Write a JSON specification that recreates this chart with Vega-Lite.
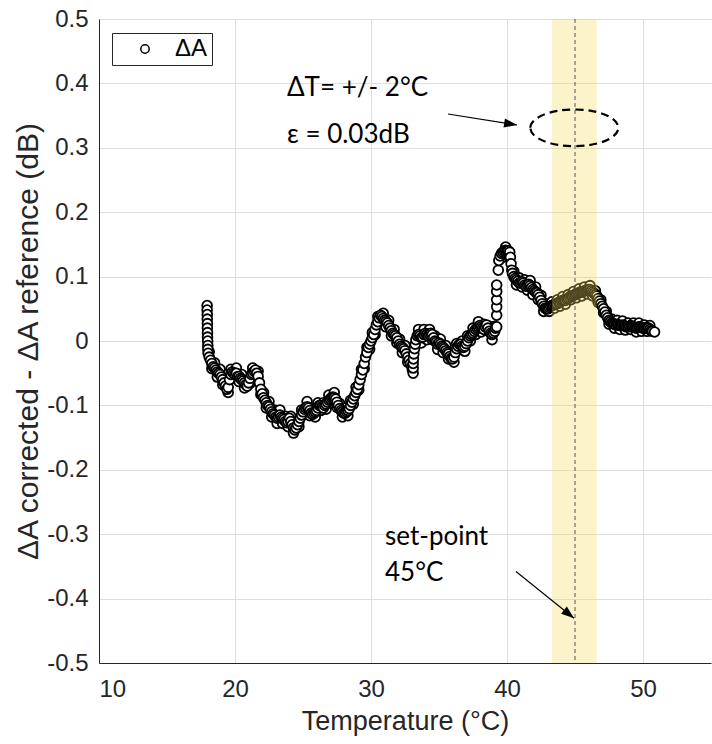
{
  "$schema": "https://vega.github.io/schema/vega-lite/v6.json",
  "width": 612,
  "height": 644,
  "autosize": {"type": "none"},
  "padding": {"left": 99, "top": 19, "right": 1, "bottom": 81},
  "background": "white",
  "config": {
    "view": {"stroke": null},
    "axis": {
      "labelFont": "Liberation Sans", "labelFontSize": 24, "labelColor": "#262626",
      "titleFont": "Liberation Sans", "titleFontSize": 27, "titleColor": "#262626", "titleFontWeight": "normal",
      "gridColor": "#dedede", "gridWidth": 1, "domainColor": "#262626", "domainWidth": 1,
      "tickColor": "#262626", "tickSize": 0,
      "labelExpr": "replace(format(datum.value, '.1~f'), '−', '-')"
    }
  },
  "datasets": {
    "dA": [
      {"T":18.1,"dA":-0.017},{"T":18.3,"dA":-0.043},{"T":18.5,"dA":-0.034},{"T":18.7,"dA":-0.056},{"T":18.9,"dA":-0.044},{"T":19.1,"dA":-0.068},{"T":19.3,"dA":-0.062},{"T":19.5,"dA":-0.08},{"T":19.7,"dA":-0.044},{"T":19.9,"dA":-0.058},
      {"T":20.1,"dA":-0.042},{"T":20.3,"dA":-0.063},{"T":20.5,"dA":-0.052},{"T":20.7,"dA":-0.073},{"T":20.9,"dA":-0.062},{"T":21.1,"dA":-0.066},{"T":21.3,"dA":-0.042},{"T":21.5,"dA":-0.053},{"T":21.7,"dA":-0.047},{"T":21.9,"dA":-0.083},
      {"T":22.1,"dA":-0.08},{"T":22.3,"dA":-0.104},{"T":22.5,"dA":-0.094},{"T":22.7,"dA":-0.118},{"T":22.9,"dA":-0.107},{"T":23.1,"dA":-0.128},{"T":23.3,"dA":-0.107},{"T":23.5,"dA":-0.128},{"T":23.7,"dA":-0.117},{"T":23.9,"dA":-0.133},
      {"T":24.1,"dA":-0.117},{"T":24.3,"dA":-0.143},{"T":24.5,"dA":-0.127},{"T":24.7,"dA":-0.133},{"T":24.9,"dA":-0.107},{"T":25.1,"dA":-0.114},{"T":25.3,"dA":-0.094},{"T":25.5,"dA":-0.116},{"T":25.7,"dA":-0.106},{"T":25.9,"dA":-0.118},
      {"T":26.1,"dA":-0.096},{"T":26.3,"dA":-0.108},{"T":26.5,"dA":-0.096},{"T":26.7,"dA":-0.106},{"T":26.9,"dA":-0.084},{"T":27.1,"dA":-0.096},{"T":27.3,"dA":-0.08},{"T":27.5,"dA":-0.103},{"T":27.7,"dA":-0.097},{"T":27.9,"dA":-0.118},
      {"T":28.1,"dA":-0.104},{"T":28.3,"dA":-0.116},{"T":28.5,"dA":-0.092},{"T":28.7,"dA":-0.098},{"T":28.9,"dA":-0.072},{"T":29.1,"dA":-0.076},{"T":29.3,"dA":-0.044},{"T":29.5,"dA":-0.043},{"T":29.7,"dA":-0.01},{"T":29.9,"dA":-0.013},
      {"T":30.1,"dA":0.013},{"T":30.3,"dA":0.01},{"T":30.5,"dA":0.038},{"T":30.7,"dA":0.032},{"T":30.9,"dA":0.043},{"T":31.1,"dA":0.022},{"T":31.3,"dA":0.032},{"T":31.5,"dA":0.008},{"T":31.7,"dA":0.018},{"T":31.9,"dA":-0.003},
      {"T":32.1,"dA":0.003},{"T":32.3,"dA":-0.018},{"T":32.5,"dA":-0.007},{"T":32.7,"dA":-0.033},{"T":32.9,"dA":-0.027},{"T":33.3,"dA":-0.006},{"T":33.5,"dA":0.018},{"T":33.7,"dA":-0.003},{"T":33.9,"dA":0.018},{"T":34.1,"dA":0.002},
      {"T":34.3,"dA":0.018},{"T":34.5,"dA":0.002},{"T":34.7,"dA":0.008},{"T":34.9,"dA":-0.013},{"T":35.1,"dA":0.003},{"T":35.3,"dA":-0.018},{"T":35.5,"dA":-0.007},{"T":35.7,"dA":-0.028},{"T":35.9,"dA":-0.019},{"T":36.1,"dA":-0.033},
      {"T":36.3,"dA":-0.004},{"T":36.5,"dA":-0.013},{"T":36.7,"dA":0.0},{"T":36.9,"dA":-0.016},{"T":37.1,"dA":0.008},{"T":37.3,"dA":0.0},{"T":37.5,"dA":0.02},{"T":37.7,"dA":0.01},{"T":37.9,"dA":0.03},{"T":38.1,"dA":0.014},
      {"T":38.3,"dA":0.026},{"T":38.5,"dA":0.017},{"T":38.7,"dA":0.023},{"T":38.9,"dA":0.002},{"T":39.1,"dA":0.023},{"T":39.7,"dA":0.13},{"T":39.9,"dA":0.146},{"T":40.1,"dA":0.132},{"T":40.5,"dA":0.108},{"T":40.7,"dA":0.087},
      {"T":40.9,"dA":0.098},{"T":41.1,"dA":0.084},{"T":41.3,"dA":0.095},{"T":41.5,"dA":0.079},{"T":41.7,"dA":0.094},{"T":41.9,"dA":0.072},{"T":42.1,"dA":0.084},{"T":42.3,"dA":0.064},{"T":42.5,"dA":0.071},{"T":42.7,"dA":0.046},
      {"T":42.9,"dA":0.058},{"T":43.1,"dA":0.046},{"T":43.3,"dA":0.061},{"T":43.5,"dA":0.051},{"T":43.7,"dA":0.064},{"T":43.9,"dA":0.054},{"T":44.1,"dA":0.069},{"T":44.3,"dA":0.057},{"T":44.5,"dA":0.072},{"T":44.7,"dA":0.064},
      {"T":44.9,"dA":0.077},{"T":45.1,"dA":0.067},{"T":45.3,"dA":0.081},{"T":45.5,"dA":0.07},{"T":45.7,"dA":0.084},{"T":45.9,"dA":0.073},{"T":46.1,"dA":0.086},{"T":46.3,"dA":0.07},{"T":46.5,"dA":0.078},{"T":46.7,"dA":0.06},
      {"T":46.9,"dA":0.064},{"T":47.1,"dA":0.044},{"T":47.3,"dA":0.046},{"T":47.5,"dA":0.026},{"T":47.7,"dA":0.034},{"T":47.9,"dA":0.02},{"T":48.1,"dA":0.032},{"T":48.3,"dA":0.018},{"T":48.5,"dA":0.031},{"T":48.7,"dA":0.017},
      {"T":48.9,"dA":0.028},{"T":49.1,"dA":0.018},{"T":49.3,"dA":0.028},{"T":49.5,"dA":0.014},{"T":49.7,"dA":0.028},{"T":49.9,"dA":0.015},{"T":50.1,"dA":0.025},{"T":50.3,"dA":0.015},{"T":50.5,"dA":0.024},
      {"T":17.95,"dA":0.055},{"T":17.95,"dA":0.048},{"T":17.96,"dA":0.041},{"T":17.96,"dA":0.034},{"T":17.97,"dA":0.027},{"T":17.97,"dA":0.02},{"T":17.98,"dA":0.013},{"T":17.98,"dA":0.006},{"T":17.99,"dA":0.0},{"T":18.0,"dA":-0.007},{"T":18.0,"dA":-0.013},{"T":18.02,"dA":-0.019},
      {"T":18.1,"dA":-0.025},{"T":18.2,"dA":-0.03},{"T":18.3,"dA":-0.035},{"T":18.4,"dA":-0.04},{"T":18.5,"dA":-0.042},{"T":18.6,"dA":-0.045},{"T":18.7,"dA":-0.048},{"T":18.8,"dA":-0.05},{"T":18.9,"dA":-0.052},{"T":19.0,"dA":-0.056},
      {"T":19.1,"dA":-0.06},{"T":19.2,"dA":-0.065},{"T":19.3,"dA":-0.07},{"T":19.4,"dA":-0.075},{"T":19.5,"dA":-0.072},{"T":19.6,"dA":-0.06},{"T":19.7,"dA":-0.052},{"T":19.8,"dA":-0.048},{"T":19.9,"dA":-0.05},{"T":20.0,"dA":-0.052},
      {"T":20.1,"dA":-0.05},{"T":20.2,"dA":-0.055},{"T":20.3,"dA":-0.055},{"T":20.4,"dA":-0.058},{"T":20.5,"dA":-0.06},{"T":20.6,"dA":-0.062},{"T":20.7,"dA":-0.065},{"T":20.8,"dA":-0.068},{"T":20.9,"dA":-0.07},{"T":21.0,"dA":-0.065},
      {"T":21.1,"dA":-0.058},{"T":21.2,"dA":-0.052},{"T":21.3,"dA":-0.05},{"T":21.4,"dA":-0.047},{"T":21.5,"dA":-0.045},{"T":21.6,"dA":-0.05},{"T":21.7,"dA":-0.055},{"T":21.8,"dA":-0.065},{"T":21.9,"dA":-0.075},{"T":22.0,"dA":-0.082},
      {"T":22.1,"dA":-0.088},{"T":22.2,"dA":-0.092},{"T":22.3,"dA":-0.096},{"T":22.4,"dA":-0.1},{"T":22.5,"dA":-0.102},{"T":22.6,"dA":-0.106},{"T":22.7,"dA":-0.11},{"T":22.8,"dA":-0.113},{"T":22.9,"dA":-0.115},{"T":23.0,"dA":-0.118},
      {"T":23.1,"dA":-0.12},{"T":23.2,"dA":-0.118},{"T":23.3,"dA":-0.115},{"T":23.4,"dA":-0.118},{"T":23.5,"dA":-0.12},{"T":23.6,"dA":-0.122},{"T":23.7,"dA":-0.125},{"T":23.8,"dA":-0.127},{"T":23.9,"dA":-0.125},{"T":24.0,"dA":-0.12},
      {"T":24.1,"dA":-0.125},{"T":24.2,"dA":-0.13},{"T":24.3,"dA":-0.135},{"T":24.4,"dA":-0.138},{"T":24.5,"dA":-0.135},{"T":24.6,"dA":-0.13},{"T":24.7,"dA":-0.125},{"T":24.8,"dA":-0.12},{"T":24.9,"dA":-0.115},{"T":25.0,"dA":-0.11},
      {"T":25.1,"dA":-0.106},{"T":25.2,"dA":-0.104},{"T":25.3,"dA":-0.102},{"T":25.4,"dA":-0.104},{"T":25.5,"dA":-0.108},{"T":25.6,"dA":-0.112},{"T":25.7,"dA":-0.114},{"T":25.8,"dA":-0.112},{"T":25.9,"dA":-0.11},{"T":26.0,"dA":-0.108},
      {"T":26.1,"dA":-0.104},{"T":26.2,"dA":-0.1},{"T":26.3,"dA":-0.1},{"T":26.4,"dA":-0.102},{"T":26.5,"dA":-0.104},{"T":26.6,"dA":-0.1},{"T":26.7,"dA":-0.098},{"T":26.8,"dA":-0.095},{"T":26.9,"dA":-0.092},{"T":27.0,"dA":-0.09},
      {"T":27.1,"dA":-0.088},{"T":27.2,"dA":-0.087},{"T":27.3,"dA":-0.088},{"T":27.4,"dA":-0.09},{"T":27.5,"dA":-0.095},{"T":27.6,"dA":-0.1},{"T":27.7,"dA":-0.105},{"T":27.8,"dA":-0.108},{"T":27.9,"dA":-0.11},{"T":28.0,"dA":-0.112},
      {"T":28.1,"dA":-0.112},{"T":28.2,"dA":-0.11},{"T":28.3,"dA":-0.108},{"T":28.4,"dA":-0.105},{"T":28.5,"dA":-0.1},{"T":28.6,"dA":-0.095},{"T":28.7,"dA":-0.09},{"T":28.8,"dA":-0.085},{"T":28.9,"dA":-0.08},{"T":29.0,"dA":-0.075},
      {"T":29.1,"dA":-0.068},{"T":29.2,"dA":-0.06},{"T":29.3,"dA":-0.052},{"T":29.4,"dA":-0.045},{"T":29.5,"dA":-0.035},{"T":29.6,"dA":-0.025},{"T":29.7,"dA":-0.018},{"T":29.8,"dA":-0.01},{"T":29.9,"dA":-0.005},{"T":30.0,"dA":0.0},
      {"T":30.1,"dA":0.005},{"T":30.2,"dA":0.01},{"T":30.3,"dA":0.018},{"T":30.4,"dA":0.025},{"T":30.5,"dA":0.03},{"T":30.6,"dA":0.036},{"T":30.7,"dA":0.04},{"T":30.8,"dA":0.038},{"T":30.9,"dA":0.035},{"T":31.0,"dA":0.032},
      {"T":31.1,"dA":0.03},{"T":31.2,"dA":0.028},{"T":31.3,"dA":0.024},{"T":31.4,"dA":0.02},{"T":31.5,"dA":0.016},{"T":31.6,"dA":0.012},{"T":31.7,"dA":0.01},{"T":31.8,"dA":0.008},{"T":31.9,"dA":0.005},{"T":32.0,"dA":0.0},
      {"T":32.1,"dA":-0.005},{"T":32.2,"dA":-0.008},{"T":32.3,"dA":-0.01},{"T":32.4,"dA":-0.012},{"T":32.5,"dA":-0.015},{"T":32.6,"dA":-0.02},{"T":32.7,"dA":-0.025},{"T":32.8,"dA":-0.03},{"T":32.9,"dA":-0.035},{"T":33.0,"dA":-0.04},
      {"T":33.05,"dA":-0.045},{"T":33.1,"dA":-0.05},{"T":33.1,"dA":-0.042},{"T":33.1,"dA":-0.035},{"T":33.12,"dA":-0.028},{"T":33.15,"dA":-0.02},{"T":33.2,"dA":-0.012},{"T":33.25,"dA":-0.005},{"T":33.3,"dA":0.002},{"T":33.4,"dA":0.008},
      {"T":33.5,"dA":0.01},{"T":33.6,"dA":0.008},{"T":33.7,"dA":0.005},{"T":33.8,"dA":0.006},{"T":33.9,"dA":0.01},{"T":34.0,"dA":0.012},{"T":34.1,"dA":0.01},{"T":34.2,"dA":0.008},{"T":34.3,"dA":0.01},{"T":34.4,"dA":0.012},
      {"T":34.5,"dA":0.01},{"T":34.6,"dA":0.005},{"T":34.7,"dA":0.0},{"T":34.8,"dA":-0.002},{"T":34.9,"dA":-0.005},{"T":35.0,"dA":-0.003},{"T":35.1,"dA":-0.005},{"T":35.2,"dA":-0.008},{"T":35.3,"dA":-0.01},{"T":35.4,"dA":-0.012},
      {"T":35.5,"dA":-0.015},{"T":35.6,"dA":-0.018},{"T":35.7,"dA":-0.02},{"T":35.8,"dA":-0.024},{"T":35.9,"dA":-0.027},{"T":36.0,"dA":-0.028},{"T":36.1,"dA":-0.025},{"T":36.2,"dA":-0.018},{"T":36.3,"dA":-0.012},{"T":36.4,"dA":-0.008},
      {"T":36.5,"dA":-0.005},{"T":36.6,"dA":-0.005},{"T":36.7,"dA":-0.008},{"T":36.8,"dA":-0.01},{"T":36.9,"dA":-0.008},{"T":37.0,"dA":-0.004},{"T":37.1,"dA":0.0},{"T":37.2,"dA":0.005},{"T":37.3,"dA":0.008},{"T":37.4,"dA":0.01},
      {"T":37.5,"dA":0.012},{"T":37.6,"dA":0.015},{"T":37.7,"dA":0.018},{"T":37.8,"dA":0.02},{"T":37.9,"dA":0.022},{"T":38.0,"dA":0.024},{"T":38.1,"dA":0.022},{"T":38.2,"dA":0.02},{"T":38.3,"dA":0.018},{"T":38.4,"dA":0.022},
      {"T":38.5,"dA":0.025},{"T":38.6,"dA":0.02},{"T":38.7,"dA":0.015},{"T":38.8,"dA":0.012},{"T":38.9,"dA":0.01},{"T":39.0,"dA":0.012},{"T":39.1,"dA":0.015},{"T":39.15,"dA":0.02},
      {"T":39.24,"dA":0.022},{"T":39.24,"dA":0.04},{"T":39.24,"dA":0.053},{"T":39.24,"dA":0.064},{"T":39.24,"dA":0.077},{"T":39.24,"dA":0.087},{"T":39.36,"dA":0.11},
      {"T":39.4,"dA":0.125},{"T":39.5,"dA":0.132},{"T":39.6,"dA":0.136},{"T":39.7,"dA":0.138},{"T":39.8,"dA":0.14},{"T":39.9,"dA":0.141},{"T":40.0,"dA":0.14},{"T":40.1,"dA":0.14},{"T":40.2,"dA":0.138},{"T":40.25,"dA":0.13},
      {"T":40.3,"dA":0.12},{"T":40.35,"dA":0.11},{"T":40.4,"dA":0.105},{"T":40.5,"dA":0.1},{"T":40.6,"dA":0.097},{"T":40.7,"dA":0.095},{"T":40.8,"dA":0.093},{"T":40.9,"dA":0.09},{"T":41.0,"dA":0.09},{"T":41.1,"dA":0.092},
      {"T":41.2,"dA":0.09},{"T":41.3,"dA":0.087},{"T":41.4,"dA":0.085},{"T":41.5,"dA":0.087},{"T":41.6,"dA":0.088},{"T":41.7,"dA":0.086},{"T":41.8,"dA":0.083},{"T":41.9,"dA":0.08},{"T":42.0,"dA":0.078},{"T":42.1,"dA":0.076},
      {"T":42.2,"dA":0.075},{"T":42.3,"dA":0.072},{"T":42.4,"dA":0.068},{"T":42.5,"dA":0.063},{"T":42.6,"dA":0.058},{"T":42.7,"dA":0.054},{"T":42.8,"dA":0.051},{"T":42.9,"dA":0.05},{"T":43.0,"dA":0.05},{"T":43.1,"dA":0.052},
      {"T":43.2,"dA":0.054},{"T":43.3,"dA":0.055},{"T":43.4,"dA":0.056},{"T":43.5,"dA":0.057},{"T":43.6,"dA":0.058},{"T":43.7,"dA":0.058},{"T":43.8,"dA":0.06},{"T":43.9,"dA":0.06},{"T":44.0,"dA":0.062},{"T":44.1,"dA":0.063},
      {"T":44.2,"dA":0.064},{"T":44.3,"dA":0.063},{"T":44.4,"dA":0.065},{"T":44.5,"dA":0.066},{"T":44.6,"dA":0.068},{"T":44.7,"dA":0.07},{"T":44.8,"dA":0.07},{"T":44.9,"dA":0.071},{"T":45.0,"dA":0.072},{"T":45.1,"dA":0.073},
      {"T":45.2,"dA":0.074},{"T":45.3,"dA":0.075},{"T":45.4,"dA":0.076},{"T":45.5,"dA":0.076},{"T":45.6,"dA":0.077},{"T":45.7,"dA":0.078},{"T":45.8,"dA":0.078},{"T":45.9,"dA":0.079},{"T":46.0,"dA":0.08},{"T":46.1,"dA":0.08},
      {"T":46.2,"dA":0.078},{"T":46.3,"dA":0.076},{"T":46.4,"dA":0.074},{"T":46.5,"dA":0.072},{"T":46.6,"dA":0.07},{"T":46.7,"dA":0.066},{"T":46.8,"dA":0.062},{"T":46.9,"dA":0.058},{"T":47.0,"dA":0.054},{"T":47.1,"dA":0.05},
      {"T":47.2,"dA":0.045},{"T":47.3,"dA":0.04},{"T":47.4,"dA":0.036},{"T":47.5,"dA":0.032},{"T":47.6,"dA":0.03},{"T":47.7,"dA":0.028},{"T":47.8,"dA":0.027},{"T":47.9,"dA":0.026},{"T":48.0,"dA":0.025},{"T":48.1,"dA":0.026},
      {"T":48.2,"dA":0.025},{"T":48.3,"dA":0.024},{"T":48.4,"dA":0.024},{"T":48.5,"dA":0.025},{"T":48.6,"dA":0.024},{"T":48.7,"dA":0.023},{"T":48.8,"dA":0.022},{"T":48.9,"dA":0.022},{"T":49.0,"dA":0.023},{"T":49.1,"dA":0.024},
      {"T":49.2,"dA":0.023},{"T":49.3,"dA":0.022},{"T":49.4,"dA":0.021},{"T":49.5,"dA":0.02},{"T":49.6,"dA":0.021},{"T":49.7,"dA":0.022},{"T":49.8,"dA":0.022},{"T":49.9,"dA":0.021},{"T":50.0,"dA":0.02},{"T":50.1,"dA":0.019},
      {"T":50.2,"dA":0.02},{"T":50.3,"dA":0.021},{"T":50.4,"dA":0.02},{"T":50.5,"dA":0.018},{"T":50.6,"dA":0.016},{"T":50.7,"dA":0.015},{"T":50.85,"dA":0.014}
    ],
    "band": [{"T": 43.3, "T2": 46.6}],
    "setpoint": [{"T": 45}],
    "ellipse": [{"T": 44.95, "dA": 0.331}],
    "arrows": [
      {"id": 1, "T": 35.66, "dA": 0.3525, "T2": 40.74, "dA2": 0.3354},
      {"id": 2, "T": 40.66, "dA": -0.358, "T2": 44.93, "dA2": -0.4306}
    ],
    "notes": [
      {"T": 23.82, "dA": 0.393, "label": "ΔT= +/- 2°C"},
      {"T": 23.82, "dA": 0.32, "label": "ε = 0.03dB"},
      {"T": 31.03, "dA": -0.304, "label": "set-point"},
      {"T": 31.03, "dA": -0.36, "label": "45°C"}
    ]
  },
  "layer": [
    {
      "data": {"name": "dA"},
      "mark": {"type": "point", "filled": true, "fill": "white", "stroke": "black", "strokeWidth": 1.8, "opacity": 1, "size": 95},
      "encoding": {
        "x": {"field": "T", "type": "quantitative", "title": "Temperature (°C)",
              "scale": {"domain": [10, 55], "nice": false, "zero": false},
              "axis": {"values": [10, 20, 30, 40, 50], "labelPadding": 14, "titleY": 58, "titleBaseline": "middle"}},
        "y": {"field": "dA", "type": "quantitative", "title": "ΔA corrected - ΔA reference (dB)",
              "scale": {"domain": [-0.5, 0.5], "nice": false, "zero": false},
              "axis": {"values": [-0.5, -0.4, -0.3, -0.2, -0.1, 0, 0.1, 0.2, 0.3, 0.4, 0.5], "labelPadding": 11, "titleX": -71, "titleY": 322, "titleBaseline": "middle", "titleAngle": -90, "titleFontSize": 30}},
        "shape": {"datum": "ΔA", "scale": {"range": ["circle"]},
          "legend": {"title": null, "orient": "none", "legendX": 13, "legendY": 14,
                     "strokeColor": "#262626", "fillColor": "white", "padding": 4,
                     "symbolOffset": 17, "labelOffset": 18, "labelFont": "Liberation Sans", "labelFontSize": 24, "labelColor": "#000000",
                     "symbolSize": 70,
                     "encode": {"symbols": {"update": {"fill": {"value": "white"}, "stroke": {"value": "black"}, "strokeWidth": {"value": 1}, "opacity": {"value": 1}}}}}}
      }
    },
    {
      "data": {"name": "band"},
      "mark": {"type": "rect", "color": "#FADB5E", "opacity": 0.32},
      "encoding": {
        "x": {"field": "T", "type": "quantitative", "title": "Temperature (°C)"},
        "x2": {"field": "T2"}
      }
    },
    {
      "data": {"name": "setpoint"},
      "mark": {"type": "rule", "color": "#555555", "strokeWidth": 1, "strokeDash": [4, 3]},
      "encoding": {
        "x": {"field": "T", "type": "quantitative", "title": "Temperature (°C)"}
      }
    },
    {
      "data": {"name": "ellipse"},
      "mark": {"type": "point", "shape": "M-1,0C-1,-0.23,-0.552,-0.417,0,-0.417C0.552,-0.417,1,-0.23,1,0C1,0.23,0.552,0.417,0,0.417C-0.552,0.417,-1,0.23,-1,0Z",
               "size": 7744, "filled": false, "stroke": "black", "strokeWidth": 2.2, "strokeDash": [8, 5], "opacity": 1},
      "encoding": {
        "x": {"field": "T", "type": "quantitative", "title": "Temperature (°C)"},
        "y": {"field": "dA", "type": "quantitative", "title": "ΔA corrected - ΔA reference (dB)"}
      }
    },
    {
      "data": {"name": "arrows"},
      "mark": {"type": "rule", "color": "black", "strokeWidth": 1.2},
      "encoding": {
        "x": {"field": "T", "type": "quantitative", "title": "Temperature (°C)"},
        "y": {"field": "dA", "type": "quantitative", "title": "ΔA corrected - ΔA reference (dB)"},
        "x2": {"field": "T2"},
        "y2": {"field": "dA2"}
      }
    },
    {
      "data": {"name": "arrows"},
      "transform": [{"filter": "datum.id == 1"}],
      "mark": {"type": "point", "shape": "M0,0L-2,-0.7L-2,0.7Z", "size": 169, "filled": true, "color": "black", "opacity": 1, "angle": 9},
      "encoding": {
        "x": {"field": "T2", "type": "quantitative", "title": "Temperature (°C)"},
        "y": {"field": "dA2", "type": "quantitative", "title": "ΔA corrected - ΔA reference (dB)"}
      }
    },
    {
      "data": {"name": "arrows"},
      "transform": [{"filter": "datum.id == 2"}],
      "mark": {"type": "point", "shape": "M0,0L-2,-0.7L-2,0.7Z", "size": 169, "filled": true, "color": "black", "opacity": 1, "angle": 39},
      "encoding": {
        "x": {"field": "T2", "type": "quantitative", "title": "Temperature (°C)"},
        "y": {"field": "dA2", "type": "quantitative", "title": "ΔA corrected - ΔA reference (dB)"}
      }
    },
    {
      "data": {"name": "notes"},
      "mark": {"type": "text", "align": "left", "baseline": "middle", "font": "Lato", "fontSize": 26, "color": "black"},
      "encoding": {
        "x": {"field": "T", "type": "quantitative", "title": "Temperature (°C)"},
        "y": {"field": "dA", "type": "quantitative", "title": "ΔA corrected - ΔA reference (dB)"},
        "text": {"field": "label"}
      }
    }
  ]
}
